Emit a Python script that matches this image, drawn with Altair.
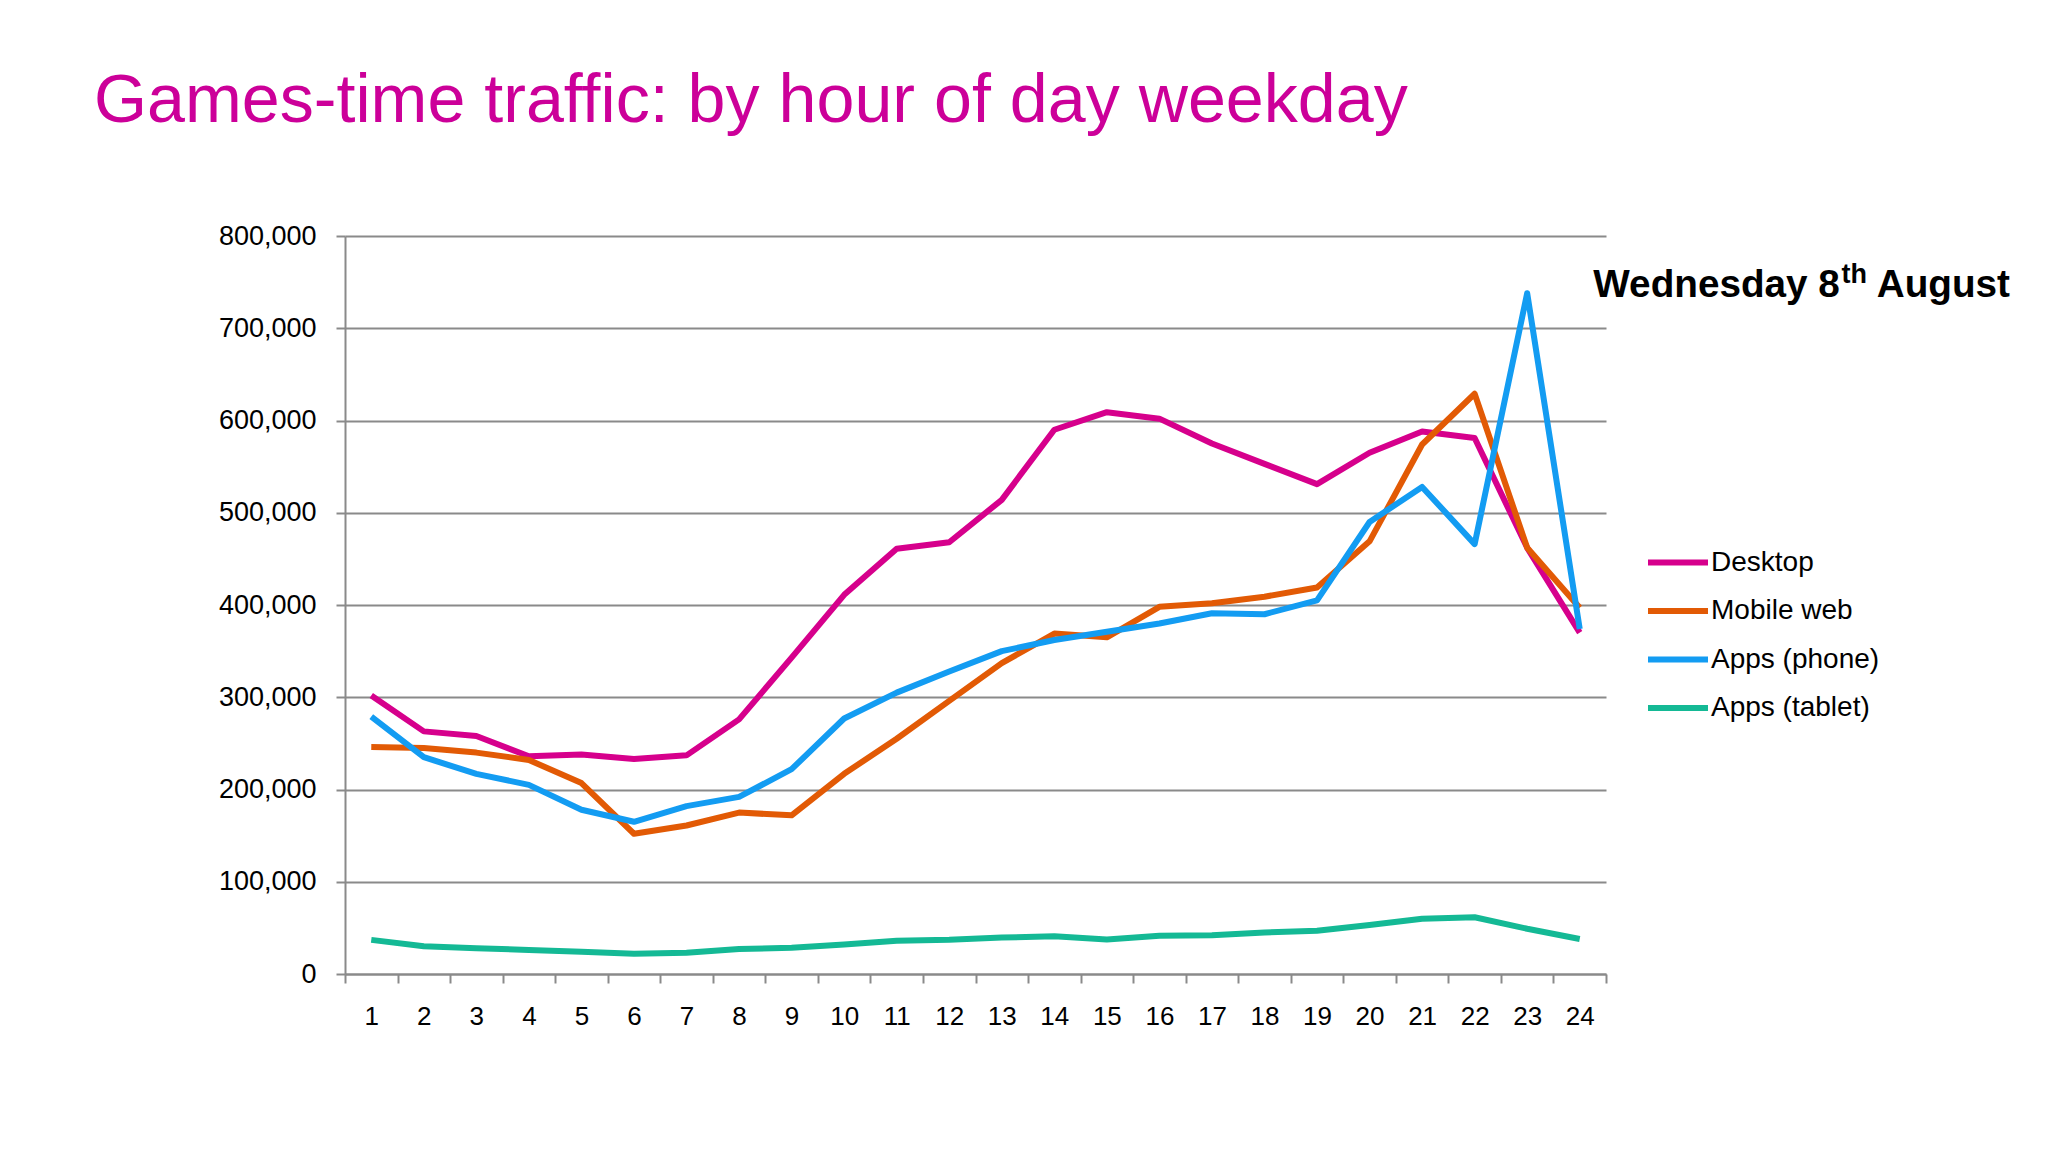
import altair as alt
import pandas as pd

hours = list(range(1, 25))
desktop = [302000, 263000, 258000, 236000, 238000, 233000, 237000, 276000, 343000, 411000, 461000, 468000,
           514000, 590000, 609000, 602000, 575000, 553000, 531000, 565000, 588000, 581000, 462000, 370000]
mobile_web = [246000, 245000, 240000, 232000, 207000, 152000, 161000, 175000, 172000, 217000, 255000, 296000,
              337000, 369000, 365000, 398000, 402000, 409000, 419000, 469000, 574000, 629000, 462000, 397000]
apps_phone = [279000, 235000, 217000, 205000, 178000, 165000, 182000, 192000, 222000, 277000, 305000, 328000,
              350000, 362000, 371000, 380000, 391000, 390000, 405000, 490000, 528000, 466000, 738000, 374000]
apps_tablet = [37000, 30000, 28000, 26000, 24000, 22000, 23000, 27000, 28500, 32000, 36000, 37000,
               39500, 41000, 37500, 41500, 42000, 45000, 47000, 53000, 60000, 61500, 49000, 38000]

series_names = ["Desktop", "Mobile web", "Apps (phone)", "Apps (tablet)"]
series_colors = ["#D6008C", "#E25A05", "#139CF2", "#14B995"]
title_text = "Games-time traffic: by hour of day weekday"
note_main = ["Wednesday 8"]
note_sup = ["th"]
note_end = ["August"]

rows = []
for name, vals in zip(series_names, [desktop, mobile_web, apps_phone, apps_tablet]):
    for h, v in zip(hours, vals):
        rows.append({"hour": h, "visits": v, "series": name})
df = pd.DataFrame(rows)

W, H = 1261, 738
FONT = "Liberation Sans"
step = W / 24.0
boundaries = [h - 0.5 for h in hours] + [24.5]

x_enc = alt.X("hour:Q",
              scale=alt.Scale(domain=[0.5, 24.5], nice=False, zero=False),
              axis=alt.Axis(values=boundaries, title=None, grid=False,
                            labelExpr="datum.value < 24 ? format(datum.value + 0.5, 'd') : ''",
                            labelOffset=step / 2, labelFlush=False, labelOverlap=False,
                            labelFontSize=26, labelFont=FONT, labelColor="#000000",
                            labelPadding=20, tickSize=9, tickColor="#8a8a8a", tickWidth=2,
                            domainColor="#8a8a8a", domainWidth=2))
y_enc = alt.Y("visits:Q",
              scale=alt.Scale(domain=[0, 800000], nice=False),
              axis=alt.Axis(values=list(range(0, 800001, 100000)), title=None,
                            labelExpr="format(datum.value, ',.0f')",
                            labelFontSize=27, labelFont=FONT, labelColor="#000000",
                            labelPadding=20, tickSize=9, tickColor="#8a8a8a", tickWidth=2,
                            domainColor="#8a8a8a", domainWidth=2,
                            gridColor="#8a8a8a", gridWidth=2))

lines = alt.Chart(df).mark_line(strokeWidth=6, strokeJoin="round").encode(
    x=x_enc,
    y=y_enc,
    color=alt.Color("series:N",
                    scale=alt.Scale(domain=series_names, range=series_colors),
                    legend=alt.Legend(title=None, orient="none", legendX=1300, legendY=293.5,
                                      symbolType="stroke", symbolSize=3600, symbolStrokeWidth=6,
                                      labelFontSize=28, labelFont=FONT, labelColor="#000000",
                                      labelLimit=0, labelOffset=0, rowPadding=1.5, padding=0)),
    order=alt.Order("hour:Q"),
)

t1 = alt.Chart(pd.DataFrame({"t": note_main})).mark_text(
    align="left", baseline="alphabetic", fontSize=38.7, fontWeight="bold", font=FONT, color="#000000"
).encode(x=alt.value(1248.3), y=alt.value(60.7), text="t:N")
t2 = alt.Chart(pd.DataFrame({"t": note_sup})).mark_text(
    align="left", baseline="alphabetic", fontSize=27, fontWeight="bold", font=FONT, color="#000000"
).encode(x=alt.value(1496.5), y=alt.value(47.3), text="t:N")
t3 = alt.Chart(pd.DataFrame({"t": note_end})).mark_text(
    align="left", baseline="alphabetic", fontSize=38.7, fontWeight="bold", font=FONT, color="#000000"
).encode(x=alt.value(1531.7), y=alt.value(60.7), text="t:N")

chart = alt.layer(lines, t1, t2, t3).properties(
    width=W, height=H,
    title=alt.TitleParams(title_text, anchor="start", frame="group", dx=-251, offset=32,
                          fontSize=68.2, font=FONT, fontWeight="normal", color="#CC0099",
                          baseline="alphabetic"),
    autosize=alt.AutoSizeParams(type="none"),
    padding={"left": 337, "top": 228, "right": 434, "bottom": 170},
    background="#ffffff",
).configure_view(stroke=None)

chart.save("out.html", embed_options={"renderer": "svg", "actions": False})
